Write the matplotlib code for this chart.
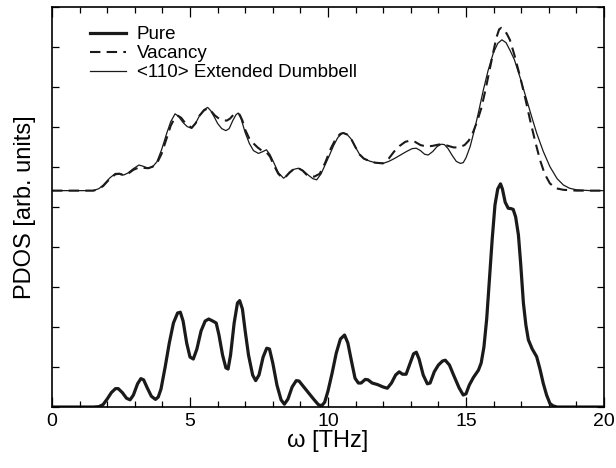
import matplotlib
matplotlib.use("Agg")
from matplotlib import pyplot as plt
from matplotlib.ticker import MultipleLocator, NullFormatter

plt.rcParams['font.family'] = ['Liberation Sans', 'DejaVu Sans']

# pure crystal PDOS (bottom curve)
pure_w = [0, 1.5, 1.7, 1.85, 2.0, 2.15, 2.3, 2.4, 2.55, 2.7, 2.83, 2.95, 3.1, 3.22,
          3.32, 3.45, 3.6, 3.75, 3.85, 3.95, 4.1, 4.25, 4.4, 4.55, 4.65, 4.75, 4.88,
          5.0, 5.12, 5.25, 5.4, 5.55, 5.68, 5.85, 5.95, 6.05, 6.18, 6.3, 6.38, 6.47,
          6.6, 6.72, 6.8, 6.9, 7.0, 7.12, 7.27, 7.38, 7.5, 7.65, 7.78, 7.88, 8.0,
          8.15, 8.3, 8.42, 8.55, 8.7, 8.85, 8.95, 9.1, 9.3, 9.5, 9.65, 9.77, 9.88,
          10.0, 10.15, 10.3, 10.45, 10.6, 10.72, 10.85, 10.98, 11.1, 11.2, 11.35,
          11.45, 11.6, 11.8, 12.0, 12.15, 12.3, 12.45, 12.58, 12.7, 12.83, 12.95,
          13.1, 13.2, 13.3, 13.45, 13.6, 13.7, 13.85, 14.0, 14.15, 14.25, 14.4,
          14.55, 14.75, 14.9, 15.0, 15.12, 15.27, 15.45, 15.55, 15.65, 15.75, 15.87,
          15.95, 16.05, 16.15, 16.25, 16.32, 16.42, 16.53, 16.63, 16.71, 16.8, 16.9,
          16.98, 17.08, 17.17, 17.26, 17.4, 17.56, 17.68, 17.8, 17.92, 18.04, 18.15,
          18.3, 20]
pure_g = [0, 0, 0.01, 0.06, 0.2, 0.36, 0.46, 0.46, 0.36, 0.22, 0.18, 0.3, 0.58, 0.71,
          0.68, 0.48, 0.27, 0.19, 0.25, 0.45, 1.0, 1.6, 2.1, 2.35, 2.37, 2.15, 1.6,
          1.25, 1.2, 1.45, 1.9, 2.15, 2.2, 2.14, 2.1, 1.8, 1.3, 0.98, 0.95, 1.3,
          2.1, 2.6, 2.66, 2.45, 1.9, 1.3, 0.8, 0.66, 0.8, 1.25, 1.47, 1.45, 1.1,
          0.55, 0.18, 0.07, 0.2, 0.5, 0.66, 0.65, 0.52, 0.35, 0.18, 0.06, 0.03, 0.12,
          0.4, 0.85, 1.35, 1.7, 1.8, 1.6, 1.15, 0.72, 0.6, 0.6, 0.69,
          0.68, 0.6, 0.56, 0.5, 0.47, 0.6, 0.8, 0.88, 0.82, 0.82, 1.05,
          1.33, 1.37, 1.2, 0.8, 0.58, 0.6, 0.88, 1.05, 1.15, 1.17, 1.05,
          0.8, 0.48, 0.3, 0.33, 0.55, 0.74, 0.92, 1.1, 1.5, 2.2, 3.42,
          4.2, 5.05, 5.45, 5.58, 5.45, 5.12, 4.97, 4.96, 4.94, 4.75, 4.3,
          3.6, 2.6, 2.05, 1.68, 1.45, 1.26, 0.95, 0.59, 0.3, 0.09, 0.03,
          0, 0]

# vacancy PDOS (upper curve, relative to its own baseline)
vac_w = [0, 1.5, 1.7, 1.86, 2.1, 2.3, 2.45, 2.6, 2.75, 2.95, 3.15, 3.3, 3.49, 3.65,
         3.8, 3.97, 4.15, 4.3, 4.45, 4.57, 4.68, 4.85, 5.06, 5.2, 5.35, 5.5, 5.64,
         5.75, 5.9, 6.05, 6.2, 6.33, 6.45, 6.58, 6.7, 6.8, 6.9, 7.0, 7.15, 7.3, 7.45,
         7.6, 7.77, 7.9, 8.05, 8.2, 8.35, 8.45, 8.6, 8.78, 8.93, 9.08, 9.22, 9.35,
         9.5, 9.7, 9.9, 10.1, 10.3, 10.45, 10.56, 10.7, 10.85, 11.0, 11.15, 11.3,
         11.5, 11.7, 11.99, 12.2, 12.4, 12.6, 12.8, 12.97, 13.15, 13.35, 13.57,
         13.8, 14.0, 14.15, 14.35, 14.55, 14.75, 14.95, 15.1, 15.25, 15.4, 15.55,
         15.7, 15.85, 16.0, 16.1, 16.2, 16.28, 16.38, 16.48, 16.59, 16.75, 16.96,
         17.15, 17.32, 17.5, 17.68, 17.85, 18.04, 18.25, 18.53, 19.0, 20]
vac_g = [0, 0, 0.04, 0.12, 0.3, 0.41, 0.42, 0.38, 0.42, 0.52, 0.58, 0.57, 0.56, 0.6,
         0.68, 0.92, 1.3, 1.62, 1.82, 1.87, 1.82, 1.67, 1.57, 1.68, 1.88, 2.0, 2.06,
         2.0, 1.88, 1.8, 1.76, 1.75, 1.8, 1.9, 1.93, 1.9, 1.75, 1.52, 1.3, 1.18, 1.08,
         1.0, 0.96, 0.85, 0.62, 0.42, 0.32, 0.33, 0.45, 0.55, 0.56, 0.5, 0.4, 0.36,
         0.35, 0.42, 0.7, 1.05, 1.32, 1.42, 1.44, 1.4, 1.28, 1.08, 0.9, 0.8,
         0.74, 0.7, 0.68, 0.8, 0.98, 1.12, 1.22, 1.25, 1.22, 1.14, 1.1,
         1.12, 1.15, 1.16, 1.12, 1.08, 1.08, 1.14, 1.25, 1.45, 1.72, 2.05,
         2.5, 3.0, 3.5, 3.82, 4.03, 4.07, 4.02, 3.92, 3.77, 3.4, 2.85,
         2.3, 1.77, 1.25, 0.77, 0.42, 0.18, 0.06, 0.02, 0, 0]

# <110> extended dumbbell PDOS (upper curve, relative to its own baseline)
db_w = [0, 1.5, 1.7, 1.86, 2.1, 2.3, 2.45, 2.6, 2.75, 2.95, 3.15, 3.3, 3.49, 3.65,
        3.8, 3.97, 4.16, 4.3, 4.46, 4.58, 4.75, 4.9, 5.06, 5.2, 5.35, 5.5, 5.64,
        5.75, 5.88, 6.0, 6.15, 6.3, 6.42, 6.55, 6.67, 6.75, 6.85, 7.0, 7.15, 7.3,
        7.48, 7.62, 7.77, 7.9, 8.05, 8.2, 8.39, 8.55, 8.75, 8.93, 9.1, 9.3, 9.45,
        9.59, 9.75, 9.9, 10.05, 10.2, 10.35, 10.5, 10.56, 10.7, 10.85, 11.0, 11.15,
        11.3, 11.5, 11.7, 11.99, 12.2, 12.4, 12.6, 12.85, 13.05, 13.2, 13.35, 13.5,
        13.63, 13.8, 13.95, 14.1, 14.22, 14.35, 14.5, 14.65, 14.8, 14.9, 15.0,
        15.15, 15.3, 15.45, 15.63, 15.8, 15.99, 16.15, 16.3, 16.45, 16.6, 16.75,
        16.95, 17.2, 17.4, 17.56, 17.8, 18.04, 18.3, 18.53, 18.75, 19.0, 19.5, 20]
db_g = [0, 0, 0.05, 0.14, 0.32, 0.43, 0.43, 0.39, 0.44, 0.55, 0.64, 0.61, 0.56, 0.6,
        0.72, 1.02, 1.44, 1.72, 1.92, 1.86, 1.7, 1.6, 1.56, 1.68, 1.88, 2.02, 2.08,
        2.0, 1.84, 1.68, 1.55, 1.5, 1.55, 1.75, 1.9, 1.94, 1.8, 1.45, 1.18, 1.0,
        0.93, 0.97, 1.02, 0.9, 0.68, 0.45, 0.31, 0.4, 0.53, 0.56, 0.5, 0.38, 0.3,
        0.27, 0.42, 0.65, 0.88, 1.12, 1.32, 1.43, 1.44, 1.4, 1.28, 1.08, 0.9,
        0.8, 0.74, 0.7, 0.68, 0.73, 0.8, 0.88, 0.98, 1.05, 1.06, 1.0, 0.91,
        0.89, 0.98, 1.1, 1.16, 1.15, 1.05, 0.88, 0.73, 0.68, 0.7, 0.82,
        1.1, 1.5, 1.95, 2.52, 3.0, 3.44, 3.68, 3.77, 3.7, 3.5, 3.28,
        2.85, 2.27, 1.8, 1.44, 0.98, 0.6, 0.3, 0.14, 0.06, 0.02, 0, 0]

offset = 5.41  # vertical shift of the defect curves

fig = plt.figure(figsize=(6.16, 4.68), dpi=100)
ax = fig.add_axes([0.0844, 0.1303, 0.8961, 0.8547])

ax.plot(pure_w, pure_g, color='#1a1a1a', lw=2.3, label='Pure',
        solid_joinstyle='round')
ax.plot(vac_w, [g + offset for g in vac_g], color='#1a1a1a', lw=1.5,
        dashes=(5, 3), label='Vacancy')
ax.plot(db_w, [g + offset for g in db_g], color='#1a1a1a', lw=0.9,
        label='<110> Extended Dumbbell')

ax.set_xlim(0, 20)
ax.set_ylim(0, 10)
ax.xaxis.set_major_locator(MultipleLocator(5))
ax.xaxis.set_minor_locator(MultipleLocator(1))
ax.yaxis.set_major_locator(MultipleLocator(1))
ax.yaxis.set_major_formatter(NullFormatter())
ax.tick_params(which='both', direction='in', top=True, right=True, width=0.9)
ax.tick_params(which='major', axis='x', length=7)
ax.tick_params(which='minor', axis='x', length=4)
ax.tick_params(which='major', axis='y', length=5)
ax.tick_params(axis='x', labelsize=14, pad=4)
for s in ax.spines.values():
    s.set_linewidth(1.2)

ax.set_xlabel('ω [THz]', fontsize=17, labelpad=0)
ax.set_ylabel('PDOS [arb. units]', fontsize=17, labelpad=8)

ax.legend(loc='upper left', frameon=False, fontsize=13.5, handlelength=1.9,
          handletextpad=0.6, labelspacing=0.1, borderaxespad=0.3,
          bbox_to_anchor=(0.045, 0.985))

fig.savefig('out.png', dpi=100)
